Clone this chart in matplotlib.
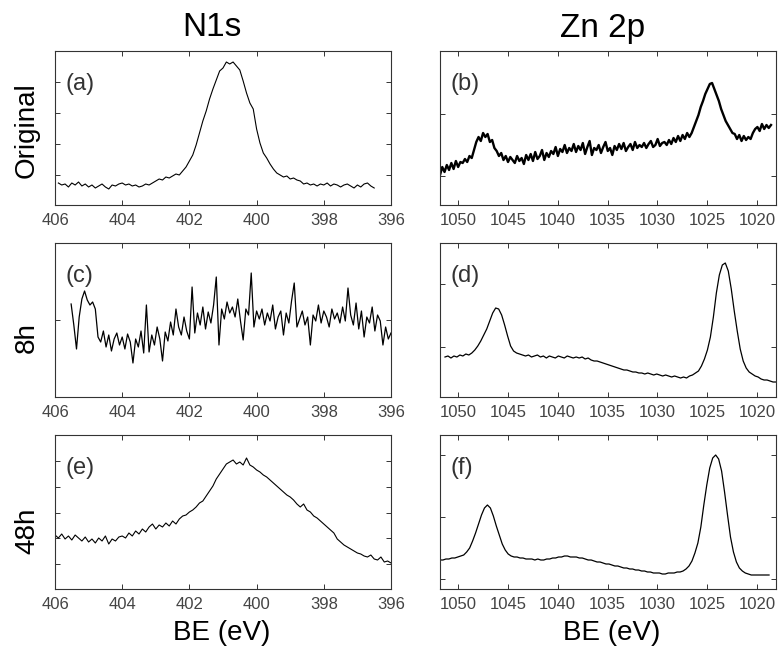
import numpy as np
import matplotlib
matplotlib.use("Agg")
import matplotlib.pyplot as plt

plt.rcParams['font.family'] = ['Liberation Sans', 'DejaVu Sans']

# ---------------- data (intensity in arbitrary units) ----------------
# (a) N1s, Original
a_range = (405.9, 396.5)
a_y = [22, 20, 21, 18, 22, 20, 23, 19, 21, 18, 20, 17, 19, 21, 18, 16, 20, 19, 21, 22,
       20, 21, 19, 20, 18, 19, 21, 20, 22, 24, 26, 25, 28, 27, 29, 31, 30, 34, 38, 44,
       50, 60, 72, 84, 94, 106, 116, 125, 134, 137, 143, 141, 143, 139, 135, 124, 112, 102, 96, 76,
       62, 52, 47, 41, 36, 32, 30, 28, 29, 26, 27, 25, 24, 21, 22, 20, 21, 19, 21, 20,
       22, 19, 21, 20, 18, 20, 21, 19, 17, 20, 18, 21, 22, 19, 17]

# (b) Zn 2p, Original
b_range = (1051.8, 1018.6)
b_y = [30, 38, 33, 40, 35, 42, 36, 44, 38, 43,
       42, 46, 43, 49, 47, 55, 63, 68, 64, 72,
       68, 71, 63, 65, 57, 54, 49, 52, 45, 49,
       43, 48, 45, 42, 49, 44, 47, 41, 50, 45,
       51, 44, 53, 46, 49, 55, 45, 52, 48, 54,
       51, 58, 49, 56, 53, 60, 52, 57, 54, 61,
       53, 59, 55, 62, 51, 58, 64, 50, 57, 55,
       60, 52, 58, 63, 54, 57, 50, 59, 55, 61,
       56, 62, 54, 58, 61, 55, 63, 57, 60, 58,
       62, 57, 61, 64, 58, 60, 66, 59, 62, 63,
       60, 65, 61, 67, 63, 69, 64, 70, 66, 72,
       68, 72, 78, 84, 90, 98, 104, 111, 116, 121,
       122, 116, 110, 104, 96, 90, 84, 80, 76, 72,
       71, 66, 70, 64, 69, 65, 68, 66, 72, 76,
       78, 74, 81, 76, 80, 77, 80]

# (c) N1s, 8h
c_range = (405.52, 396.0)
c_y = [93, 72, 48, 80, 98, 106, 97, 92, 95, 88,
       60, 55, 66, 50, 62, 46, 58, 64, 52, 60,
       48, 63, 55, 34, 58, 50, 66, 44, 92, 45,
       62, 52, 70, 58, 36, 65, 56, 75, 62, 88,
       70, 62, 80, 66, 58, 110, 64, 84, 72, 90,
       68, 85, 74, 92, 120, 52, 88, 78, 95, 84,
       90, 80, 98, 76, 57, 88, 82, 124, 70, 86,
       78, 88, 72, 84, 76, 92, 68, 80, 86, 62,
       84, 74, 96, 114, 70, 78, 86, 72, 80, 52,
       82, 76, 92, 74, 86, 80, 70, 88, 78, 84,
       74, 90, 76, 109, 82, 72, 94, 68, 86, 60,
       80, 74, 90, 66, 82, 76, 52, 70, 58, 64]

# (d) Zn 2p, 8h
d_range = (1051.3, 1018.1)
d_y = [40, 41, 39, 41, 40, 42, 41, 43, 42, 44,
       47, 51, 56, 62, 68, 76, 84, 89, 88, 82,
       72, 61, 51, 46, 44, 43, 42, 41, 42, 40,
       41, 42, 40, 41, 39, 41, 40, 39, 41, 40,
       39, 41, 40, 39, 40, 39, 40, 38, 39, 37,
       36, 36, 35, 34, 33, 32, 31, 30, 29, 28,
       27, 27, 26, 25, 25, 24, 24, 23, 24, 23,
       22, 23, 22, 21, 22, 21, 20, 21, 20, 19,
       20, 19, 21, 22, 24, 26, 31, 38, 47, 60,
       80, 104, 122, 132, 134, 126, 108, 86, 66, 48,
       36, 29, 25, 23, 21, 20, 18, 17, 17, 16,
       15, 15]

# (e) N1s, 48h
e_range = (406.0, 396.0)
e_y = [54, 51, 55, 50, 53, 49, 54, 51, 48, 52,
       47, 50, 46, 51, 48, 53, 45, 50, 48, 52,
       53, 51, 56, 53, 58, 55, 60, 57, 62, 65,
       60, 64, 62, 66, 63, 68, 65, 70, 73, 74,
       77, 79, 82, 86, 88, 93, 98, 103, 110, 115,
       120, 125, 127, 129, 125, 127, 124, 131, 124, 122,
       119, 117, 114, 112, 109, 106, 103, 100, 97, 94,
       92, 89, 85, 82, 85, 79, 77, 73, 71, 68,
       65, 62, 59, 56, 50, 47, 44, 42, 40, 38,
       36, 35, 33, 32, 34, 30, 29, 32, 27, 28,
       26]

# (f) Zn 2p, 48h
f_range = (1051.8, 1018.8)
f_y = [29, 29, 30, 30, 31, 31, 32, 33, 34, 37,
       41, 48, 56, 65, 74, 81, 84, 81, 73, 63,
       54, 45, 39, 35, 33, 32, 32, 31, 31, 30,
       30, 30, 29, 30, 29, 29, 30, 30, 31, 31,
       32, 32, 33, 33, 32, 32, 32, 31, 31, 30,
       29, 29, 28, 27, 27, 26, 25, 25, 24, 23,
       23, 22, 21, 21, 20, 20, 19, 19, 18, 18,
       17, 17, 16, 16, 16, 15, 15, 16, 16, 16,
       17, 17, 18, 20, 23, 28, 36, 46, 62, 84,
       104, 121, 131, 134, 130, 118, 97, 74, 52, 37,
       27, 21, 18, 16, 15, 14, 14, 14, 14, 14,
       14, 14]

n_ticks = [406, 404, 402, 400, 398, 396]
zn_ticks = [1050, 1045, 1040, 1035, 1030, 1025, 1020]

panel_labels = ['(a)', '(b)', '(c)', '(d)', '(e)', '(f)']
row_labels = ['Original', '8h', '48h']
col_titles = ['N1s', 'Zn 2p']
x_label = 'BE (eV)'

# ---------------- figure ----------------
W, H = 779, 661
fig = plt.figure(figsize=(W / 100, H / 100), dpi=100)

lefts = [55, 440]
tops = [51, 243, 435]
aw, ah = 336, 154

panels = [
    (a_range, a_y, 0.8, [30, 61, 92, 123]),
    (b_range, b_y, 1.7, [29, 91]),
    (c_range, c_y, 0.9, [77]),
    (d_range, d_y, 0.9, [50, 113]),
    (e_range, e_y, 0.8, [25, 51, 76, 102, 128]),
    (f_range, f_y, 0.9, [10, 72, 134]),
]

tick_color = '#444444'
for k, (rng, ys, lw, yt) in enumerate(panels):
    r, c = divmod(k, 2)
    ax = fig.add_axes([lefts[c] / W, 1 - (tops[r] + ah) / H, aw / W, ah / H])
    xs = np.linspace(rng[0], rng[1], len(ys))
    ax.plot(xs, ys, color='black', lw=lw)
    if c == 0:
        ax.set_xlim(406, 396)
        ax.set_xticks(n_ticks)
    else:
        ax.set_xlim(1051.8, 1018.1)
        ax.set_xticks(zn_ticks)
    ax.set_ylim(0, 154)
    ax.set_yticks(yt)
    ax.set_yticklabels([])
    ax.tick_params(direction='in', top=True, right=True, length=3.5, width=0.7,
                   labelsize=12, labelcolor=tick_color, pad=6, color='#333333')
    for s in ax.spines.values():
        s.set_linewidth(0.8)
        s.set_color('#333333')
    ax.text(0.03, 0.785, panel_labels[k], transform=ax.transAxes, fontsize=17,
            va='center', ha='left', color='#333333')

fig.text(212 / W, 1 - 28 / H, col_titles[0], fontsize=24, ha='center', va='center')
fig.text(603 / W, 1 - 28 / H, col_titles[1], fontsize=24, ha='center', va='center')

for lbl, yc in zip(row_labels, [130, 338, 531]):
    fig.text(27 / W, 1 - yc / H, lbl, fontsize=20, rotation=90, ha='center', va='center')

fig.text(222 / W, 1 - 633 / H, x_label, fontsize=20, ha='center', va='center')
fig.text(612 / W, 1 - 633 / H, x_label, fontsize=20, ha='center', va='center')

fig.savefig('out.png', dpi=100, facecolor='white')
